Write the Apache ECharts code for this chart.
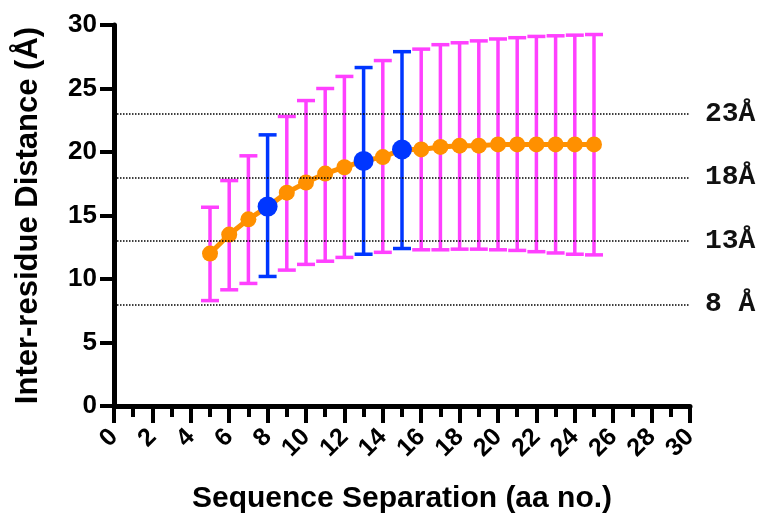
<!DOCTYPE html>
<html>
<head>
<meta charset="utf-8" />
<title>Inter-residue Distance</title>
<script src="https://cdn.jsdelivr.net/npm/echarts@6/dist/echarts.min.js"></script>
<style>
  html, body { margin: 0; padding: 0; background: #fff; }
  #chart { width: 761px; height: 516px; }
</style>
</head>
<body>
<div id="chart"></div>
<script>
  // sequence separation (aa no.)
  var separation = [5, 6, 7, 8, 9, 10, 11, 12, 13, 14, 15, 16, 17, 18, 19, 20, 21, 22, 23, 24, 25];
  // mean distance and error bar ends (Å)
  var meanDist  = [12.0, 13.5, 14.7, 15.7, 16.8, 17.6, 18.3, 18.8, 19.3, 19.6, 20.2, 20.2, 20.4, 20.5, 20.5, 20.6, 20.6, 20.6, 20.6, 20.6, 20.6];
  var upperDist = [15.65, 17.75, 19.7, 21.35, 22.8, 24.05, 25.0, 25.95, 26.65, 27.2, 27.9, 28.1, 28.45, 28.6, 28.75, 28.9, 29.0, 29.1, 29.15, 29.2, 29.25];
  var lowerDist = [8.3, 9.15, 9.65, 10.2, 10.7, 11.15, 11.4, 11.7, 11.95, 12.1, 12.4, 12.3, 12.3, 12.35, 12.35, 12.3, 12.25, 12.15, 12.05, 11.95, 11.9];
  // separations drawn in blue
  var highlighted = [8, 13, 15];
  // dotted reference lines
  var refLines = [8, 13, 18, 23];
  var refLabels = ['8 Å', '13Å', '18Å', '23Å'];

  var ORANGE = '#FF9000', PINK = '#FF40FF', BLUE = '#0036FF';

  var lineData = [], pinkBars = [], blueBars = [], bluePts = [];
  for (var i = 0; i < separation.length; i++) {
    lineData.push([separation[i], meanDist[i]]);
    var bar = [separation[i], lowerDist[i], upperDist[i]];
    if (highlighted.indexOf(separation[i]) >= 0) {
      blueBars.push(bar);
      bluePts.push([separation[i], meanDist[i]]);
    } else {
      pinkBars.push(bar);
    }
  }

  function errorBar(color) {
    return function (params, api) {
      var x = api.value(0);
      var top = api.coord([x, api.value(2)]);
      var bot = api.coord([x, api.value(1)]);
      var hw = 9;
      var st = { stroke: color, lineWidth: 3.5 };
      return {
        type: 'group',
        children: [
          { type: 'line', shape: { x1: top[0], y1: top[1], x2: bot[0], y2: bot[1] }, style: st },
          { type: 'line', shape: { x1: top[0] - hw, y1: top[1], x2: top[0] + hw, y2: top[1] }, style: st },
          { type: 'line', shape: { x1: bot[0] - hw, y1: bot[1], x2: bot[0] + hw, y2: bot[1] }, style: st }
        ]
      };
    };
  }

  var markData = refLines.map(function (v, k) {
    return { yAxis: v, label: { formatter: refLabels[k] } };
  });

  var myChart = echarts.init(document.getElementById('chart'));
  var option = {
    animation: false,
    grid: { left: 114, right: 71, top: 25, bottom: 110, outerBoundsMode: 'none', containLabel: false },
    xAxis: {
      type: 'value',
      min: 0, max: 30, interval: 2,
      name: 'Sequence Separation (aa no.)',
      nameLocation: 'middle',
      nameGap: 78,
      nameTextStyle: { fontFamily: 'Liberation Sans', fontWeight: 'bold', fontSize: 30, color: '#000' },
      axisLine: { lineStyle: { color: '#000', width: 5 } },
      axisTick: { length: 17, lineStyle: { color: '#000', width: 4 } },
      minorTick: { show: true, splitNumber: 2, length: 11, lineStyle: { color: '#000', width: 4 } },
      splitLine: { show: false },
      axisLabel: {
        rotate: 45, margin: 27,
        fontFamily: 'Liberation Sans', fontWeight: 'bold', fontSize: 25, color: '#000'
      }
    },
    yAxis: {
      type: 'value',
      min: 0, max: 30, interval: 5,
      name: 'Inter-residue Distance (Å)',
      nameLocation: 'middle',
      nameGap: 70,
      nameTextStyle: { fontFamily: 'Liberation Sans', fontWeight: 'bold', fontSize: 31, color: '#000' },
      axisLine: { show: true, lineStyle: { color: '#000', width: 5 } },
      axisTick: { show: true, length: 14, lineStyle: { color: '#000', width: 4 } },
      splitLine: { show: false },
      axisLabel: { margin: 17, fontFamily: 'Liberation Sans', fontWeight: 'bold', fontSize: 26, color: '#000' }
    },
    series: [
      {
        type: 'custom',
        renderItem: errorBar(PINK),
        data: pinkBars,
        encode: { x: 0, y: [1, 2] },
        z: 1,
        silent: true
      },
      {
        type: 'line',
        data: lineData,
        symbol: 'circle',
        symbolSize: 16,
        itemStyle: { color: ORANGE, opacity: 1 },
        lineStyle: { color: ORANGE, width: 5 },
        z: 2,
        markLine: {
          silent: true,
          symbol: 'none',
          lineStyle: { color: '#000', type: 'dotted', width: 1.5 },
          label: {
            position: 'end', distance: 15,
            fontFamily: 'Liberation Mono', fontWeight: 'bold', fontSize: 28, color: '#111'
          },
          data: markData
        }
      },
      {
        type: 'custom',
        renderItem: errorBar(BLUE),
        data: blueBars,
        encode: { x: 0, y: [1, 2] },
        z: 3,
        silent: true
      },
      {
        type: 'scatter',
        data: bluePts,
        symbol: 'circle',
        symbolSize: 20,
        itemStyle: { color: BLUE, opacity: 1 },
        z: 4
      }
    ]
  };
  myChart.setOption(option);
</script>
</body>
</html>
